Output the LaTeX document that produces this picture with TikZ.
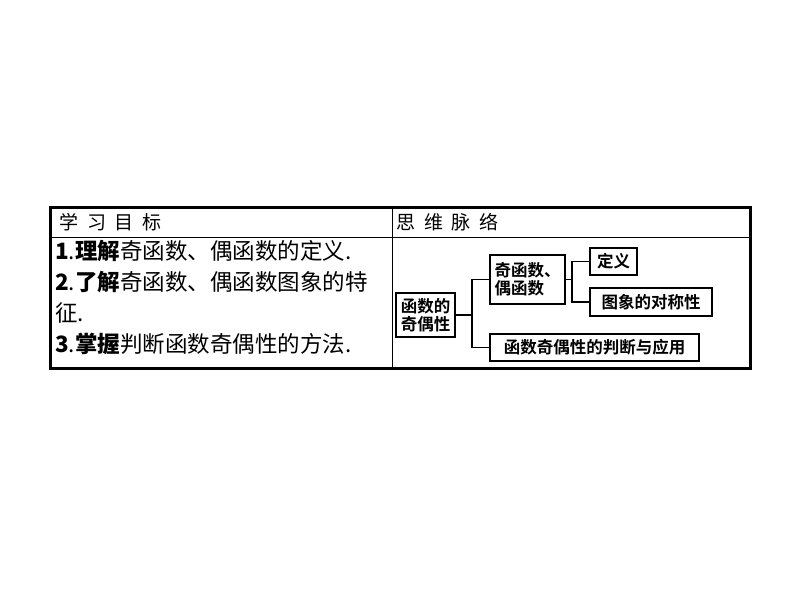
\documentclass[tikz,border=0pt]{standalone}
\usepackage{fontspec}
\setmainfont{Liberation Serif}
\newfontfamily\cjk{Noto Sans CJK SC}
\newfontfamily\cjkb{Noto Sans CJK SC Bold}
\begin{document}
\begin{tikzpicture}[x=1pt,y=-1pt,
  bx/.style={draw,line width=1.6pt,inner sep=1pt,font=\cjkb\fontsize{16.5}{18}\selectfont,align=left},
  ln/.style={line width=1.4pt}]
\useasboundingbox (0,0) rectangle (794,596);
\draw[line width=1pt] (392,207) -- (392,368);
\draw[line width=1pt] (50,237) -- (750,237);
\draw[line width=3pt] (50,207) rectangle (750,368);
\node[anchor=west,font=\cjk\fontsize{19}{21}\selectfont] (h1) at (56,222) {学\ \ 习\ \ 目\ \ 标};
\node[anchor=west,font=\cjk\fontsize{19}{21}\selectfont] (h2) at (393,222) {思\ \ 维\ \ 脉\ \ 络};
\node[anchor=north west,align=left,font=\cjk\fontsize{22.5}{31}\selectfont,inner sep=0pt] (t) at (55,240)
{\textbf{1}.\textbf{理解}奇函数、偶函数的定义.\\\textbf{2}.\textbf{了解}奇函数、偶函数图象的特\\征.\\\textbf{3}.\textbf{掌握}判断函数奇偶性的方法.};
\node[bx,minimum width=59pt,minimum height=44pt] (a) at (425.5,315) {函数的\\奇偶性};
\node[bx,minimum width=75pt,minimum height=49pt] (b) at (527.5,279.5) {奇函数、\\偶函数};
\node[bx,minimum width=47pt,minimum height=27pt] (c) at (613.5,261.5) {定义};
\node[bx,minimum width=122pt,minimum height=28pt] (d) at (651,302) {图象的对称性};
\node[bx,minimum width=209pt,minimum height=27pt] (e) at (594.5,347.5) {函数奇偶性的判断与应用};
\draw[ln] (a.east) -- (472,315);
\draw[ln] (b.west) -- (472,279.5) -- (472,347.5) -- (e.west);
\draw[ln] (b.east) -- (572,279.5);
\draw[ln] (c.west) -- (572,261.5) -- (572,302) -- (d.west);
\end{tikzpicture}
\end{document}
